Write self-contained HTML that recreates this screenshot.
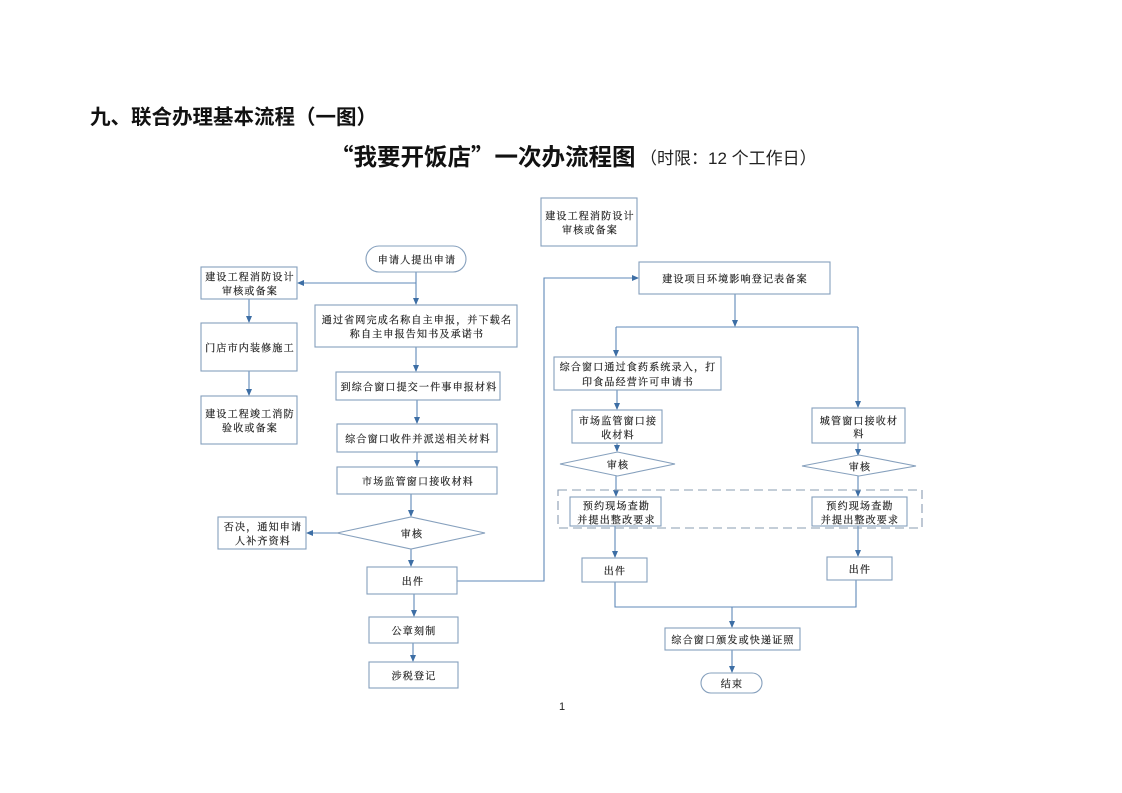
<!DOCTYPE html>
<html><head><meta charset="utf-8"><style>
html,body{margin:0;padding:0;background:#fff;}
svg{display:block;}
.b{fill:#fff;stroke:#86a0bd;stroke-width:1.1;}
.c{fill:none;stroke:#5f89b8;stroke-width:1.1;}
.t{font-family:"Noto Serif CJK SC","Noto Sans CJK SC",serif;font-size:10px;letter-spacing:1.2px;fill:#222;stroke:#222;stroke-width:0.2;text-anchor:middle;dominant-baseline:central;}
</style></head><body>
<svg width="1122" height="793" viewBox="0 0 1122 793" xmlns="http://www.w3.org/2000/svg">
<defs>
<marker id="a" markerWidth="7" markerHeight="6" refX="6" refY="3" orient="auto" markerUnits="userSpaceOnUse">
<path d="M0,0 L7,3 L0,6 z" fill="#3d6ea5"/>
</marker>
</defs>

<!-- titles -->
<text x="90" y="124" font-family="'Liberation Sans','Noto Sans CJK SC',sans-serif" font-weight="bold" font-size="20.5" fill="#111">九、联合办理基本流程（一图）</text>
<text x="330" y="165" font-family="'Noto Sans CJK SC',sans-serif" font-weight="bold" font-size="23.5" fill="#111">“我要开饭店”一次办流程图</text>
<text x="640" y="164" font-family="'Liberation Sans','Noto Sans CJK SC',sans-serif" font-size="17" fill="#222">（时限：12 个工作日）</text>

<!-- connectors -->
<path class="c" d="M416,272 V304" marker-end="url(#a)"/>
<path class="c" d="M416,283 H298" marker-end="url(#a)"/>
<path class="c" d="M249,299 V322" marker-end="url(#a)"/>
<path class="c" d="M249,371 V395" marker-end="url(#a)"/>
<path class="c" d="M416,347 V371" marker-end="url(#a)"/>
<path class="c" d="M417,400 V423" marker-end="url(#a)"/>
<path class="c" d="M417,452 V466" marker-end="url(#a)"/>
<path class="c" d="M411,494 V516" marker-end="url(#a)"/>
<path class="c" d="M337,533 H307" marker-end="url(#a)"/>
<path class="c" d="M411,549 V566" marker-end="url(#a)"/>
<path class="c" d="M457,581 H544 V278 H638" marker-end="url(#a)"/>
<path class="c" d="M414,594 V616" marker-end="url(#a)"/>
<path class="c" d="M413,643 V661" marker-end="url(#a)"/>

<path class="c" d="M735,294 V326" marker-end="url(#a)"/>
<path class="c" d="M616,327 H858"/>
<path class="c" d="M616,327 V356" marker-end="url(#a)"/>
<path class="c" d="M858,327 V407" marker-end="url(#a)"/>
<path class="c" d="M617,390 V409" marker-end="url(#a)"/>
<path class="c" d="M617,443 V451" marker-end="url(#a)"/>
<path class="c" d="M616,476 V496" marker-end="url(#a)"/>
<path class="c" d="M615,526 V557" marker-end="url(#a)"/>
<path class="c" d="M858,443 V455" marker-end="url(#a)"/>
<path class="c" d="M858,476 V496" marker-end="url(#a)"/>
<path class="c" d="M858,526 V556" marker-end="url(#a)"/>
<path class="c" d="M615,582 V607 H856 V580"/>
<path class="c" d="M732,607 V627" marker-end="url(#a)"/>
<path class="c" d="M732,650 V672" marker-end="url(#a)"/>

<!-- dashed group -->
<rect x="558" y="490" width="364" height="38" fill="none" stroke="#8a9cb2" stroke-width="1.1" stroke-dasharray="9,5"/>

<!-- left column -->
<rect class="b" x="366" y="246" width="100" height="26" rx="13"/>
<text class="t" x="417" y="259">申请人提出申请</text>

<rect class="b" x="201" y="267" width="96" height="32"/>
<text class="t" x="250" y="276">建设工程消防设计</text>
<text class="t" x="250" y="290">审核或备案</text>

<rect class="b" x="201" y="323" width="96" height="48"/>
<text class="t" x="250" y="347">门店市内装修施工</text>

<rect class="b" x="201" y="396" width="96" height="48"/>
<text class="t" x="250" y="413">建设工程竣工消防</text>
<text class="t" x="250" y="427">验收或备案</text>

<rect class="b" x="315" y="305" width="202" height="42"/>
<text class="t" x="417" y="319">通过省网完成名称自主申报，并下载名</text>
<text class="t" x="417" y="333">称自主申报告知书及承诺书</text>

<rect class="b" x="336" y="372" width="164" height="28"/>
<text class="t" x="419" y="386">到综合窗口提交一件事申报材料</text>

<rect class="b" x="337" y="424" width="160" height="28"/>
<text class="t" x="418" y="438">综合窗口收件并派送相关材料</text>

<rect class="b" x="337" y="467" width="160" height="27"/>
<text class="t" x="418" y="480.5">市场监管窗口接收材料</text>

<polygon class="b" points="337,533 411,517 485,533 411,549"/>
<text class="t" x="412" y="533">审核</text>

<rect class="b" x="218" y="517" width="88" height="32"/>
<text class="t" x="263" y="526">否决，通知申请</text>
<text class="t" x="263" y="540">人补齐资料</text>

<rect class="b" x="367" y="567" width="90" height="27"/>
<text class="t" x="413" y="580.5">出件</text>

<rect class="b" x="369" y="617" width="89" height="26"/>
<text class="t" x="414" y="630">公章刻制</text>

<rect class="b" x="369" y="662" width="89" height="26"/>
<text class="t" x="414" y="675">涉税登记</text>

<!-- right part -->
<rect class="b" x="541" y="198" width="96" height="48"/>
<text class="t" x="590" y="215">建设工程消防设计</text>
<text class="t" x="590" y="229">审核或备案</text>

<rect class="b" x="639" y="262" width="191" height="32"/>
<text class="t" x="735" y="278">建设项目环境影响登记表备案</text>

<rect class="b" x="554" y="357" width="167" height="33"/>
<text class="t" x="638" y="366">综合窗口通过食药系统录入，打</text>
<text class="t" x="638" y="381">印食品经营许可申请书</text>

<rect class="b" x="572" y="410" width="90" height="33"/>
<text class="t" x="618" y="420">市场监管窗口接</text>
<text class="t" x="618" y="434">收材料</text>

<polygon class="b" points="560,464 617.5,452 675,464 617.5,476"/>
<text class="t" x="618" y="464">审核</text>

<rect class="b" x="570" y="497" width="91" height="29"/>
<text class="t" x="616.5" y="505">预约现场查勘</text>
<text class="t" x="616.5" y="519">并提出整改要求</text>

<rect class="b" x="582" y="558" width="65" height="24"/>
<text class="t" x="615" y="570">出件</text>

<rect class="b" x="812" y="408" width="93" height="35"/>
<text class="t" x="859" y="420">城管窗口接收材</text>
<text class="t" x="859" y="433">料</text>

<polygon class="b" points="802,466 859,455 916,466 859,476"/>
<text class="t" x="860" y="466">审核</text>

<rect class="b" x="812" y="497" width="95" height="29"/>
<text class="t" x="860" y="505">预约现场查勘</text>
<text class="t" x="860" y="519">并提出整改要求</text>

<rect class="b" x="827" y="557" width="65" height="23"/>
<text class="t" x="860" y="568.5">出件</text>

<rect class="b" x="665" y="628" width="135" height="22"/>
<text class="t" x="733" y="639">综合窗口颁发或快递证照</text>

<rect class="b" x="701" y="673" width="61" height="20" rx="10"/>
<text class="t" x="732" y="683">结束</text>

<text x="562" y="710" font-family="'Liberation Sans',sans-serif" font-size="11" fill="#222" text-anchor="middle">1</text>
</svg>
</body></html>
